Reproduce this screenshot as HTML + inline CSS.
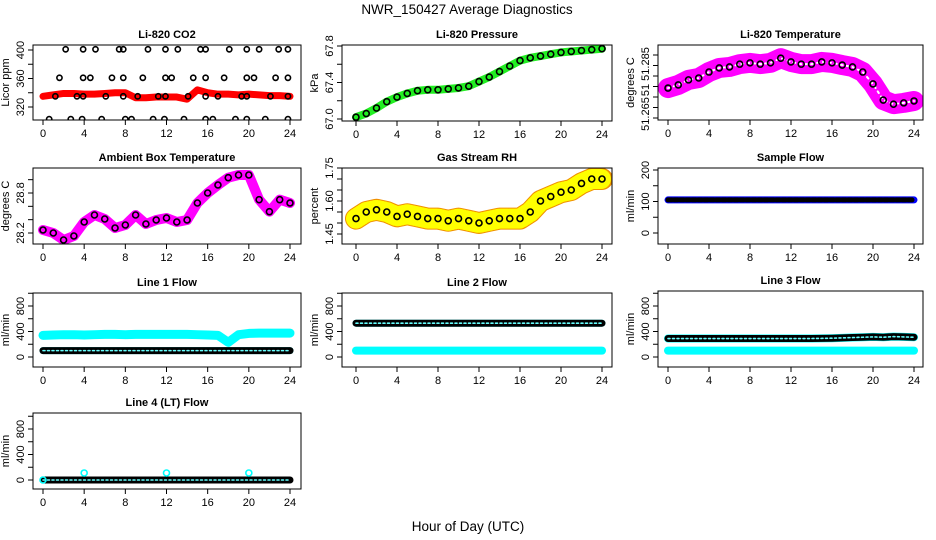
<!DOCTYPE html>
<html><head><meta charset="utf-8">
<style>
html,body{margin:0;padding:0;background:#fff;}
svg{display:block;font-family:"Liberation Sans",Arial,sans-serif;}
</style></head>
<body>
<svg id="chart" width="936" height="540" viewBox="0 0 936 540" xmlns="http://www.w3.org/2000/svg">
<text x="467" y="14" font-size="13.5" text-anchor="middle">NWR_150427  Average Diagnostics</text>
<text x="468" y="531" font-size="13.5" text-anchor="middle">Hour of Day (UTC)</text>
</svg>
<script>
// ---- data (hourly, 0..24) ----
const hours = [0,1,2,3,4,5,6,7,8,9,10,11,12,13,14,15,16,17,18,19,20,21,22,23,24];
const co2Band = [335,337,339,339,338,338,339,340,340,333,333,334,334,334,331,344,340,338,338,337,338,337,336,336,335];
const co2PtTimes = [2.2,3.9,5.1,7.4,7.8,10.2,11.9,13.1,15.3,15.8,18.1,19.8,21.0,22.9,23.8,
  1.6,3.9,4.6,6.7,7.8,9.7,11.9,12.5,14.6,15.8,17.6,19.8,20.5,22.6,23.8,
  1.2,3.3,3.9,6.1,7.8,9.2,11.2,11.9,14.1,15.8,17.0,19.3,19.8,22.1,23.8,
  0.6,2.7,3.8,5.7,8.0,8.6,10.7,11.8,13.7,15.8,16.5,18.7,19.8,21.6,23.8];
const co2PtValues = [401,401,401,401,401,401,401,401,401,401,401,401,401,401,401,
  361,361,361,361,361,361,361,361,361,361,361,361,361,361,361,
  335,335,335,335,335,335,335,335,335,335,335,335,335,335,335,
  303,303,303,303,303,303,303,303,303,303,303,303,303,303,303];
const pressure = [67.02,67.06,67.12,67.19,67.24,67.28,67.31,67.32,67.32,67.33,67.34,67.36,67.41,67.46,67.52,67.58,67.64,67.67,67.69,67.71,67.73,67.74,67.75,67.76,67.77];
const li820Temp = [51.2745,51.2755,51.2771,51.2777,51.2796,51.2809,51.2812,51.2821,51.2825,51.2821,51.2825,51.2840,51.2828,51.2821,51.2821,51.2828,51.2825,51.2818,51.2812,51.2796,51.2758,51.2707,51.2694,51.2698,51.2704];
const ambientTemp = [28.245,28.2,28.095,28.155,28.365,28.47,28.41,28.275,28.32,28.47,28.335,28.395,28.425,28.365,28.395,28.65,28.80,28.92,29.03,29.07,29.07,28.70,28.52,28.70,28.65];
const gasRH = [1.52,1.55,1.56,1.55,1.53,1.54,1.53,1.52,1.52,1.51,1.52,1.51,1.50,1.51,1.52,1.52,1.52,1.55,1.60,1.62,1.64,1.65,1.68,1.70,1.70];
const sampleFlow = [105,105,105,105,105,105,105,105,105,105,105,105,105,105,105,105,105,105,105,105,105,105,105,105,105];
const line1Upper = [340,345,350,350,345,350,355,355,350,355,355,355,355,355,355,350,345,340,230,350,370,375,375,375,375];
const line1Lower = [100,100,100,100,100,100,100,100,100,100,100,100,100,100,100,100,100,100,100,100,100,100,100,100,100];
const line2Upper = [530,530,530,530,530,530,530,530,530,530,530,530,530,530,530,530,530,530,530,530,530,530,530,530,530];
const line2Lower = [100,100,100,100,100,100,100,100,100,100,100,100,100,100,100,100,100,100,100,100,100,100,100,100,100];
const line3Upper = [290,290,290,290,290,290,290,290,290,290,290,290,290,290,290,292,295,300,305,310,315,310,320,315,310];
const line3Lower = [100,100,100,100,100,100,100,100,100,100,100,100,100,100,100,100,100,100,100,100,100,100,100,100,100];
const line4Flow = [0,0,0,0,0,0,0,0,0,0,0,0,0,0,0,0,0,0,0,0,0,0,0,0,0];
const line4SpikeTimes = [0,4,12,20];
const line4SpikeValues = [0,110,110,110];
const xTicks = [0,4,8,12,16,20,24];

const NS = "http://www.w3.org/2000/svg";
const svg = document.getElementById('chart');
function el(tag, attrs, parent){
  const e = document.createElementNS(NS, tag);
  for (const k in attrs) e.setAttribute(k, attrs[k]);
  (parent||svg).appendChild(e);
  return e;
}
function makePanel(cfg){
  const g = el('g', {});
  
  
  const xs = h => cfg.x0 + (cfg.x24 - cfg.x0) * h / 24;
  const ys = v => cfg.ya[1] + (v - cfg.ya[0]) * (cfg.yb[1] - cfg.ya[1]) / (cfg.yb[0] - cfg.ya[0]);
  const t = el('text', {x:(cfg.l+cfg.r)/2, y:cfg.t-7, 'font-size':11, 'font-weight':'bold', 'text-anchor':'middle'}, g);
  t.textContent = cfg.title;
  
  
  const xa = el('g', {}, g);
  
  
  el('line', {x1:xs(0), x2:xs(24), y1:cfg.b, y2:cfg.b, stroke:'#000'}, xa);
  xTicks.forEach(h => {
    el('line', {x1:xs(h), x2:xs(h), y1:cfg.b, y2:cfg.b+5, stroke:'#000'}, xa);
    const tl = el('text', {x:xs(h), y:cfg.b+17, 'font-size':11, 'text-anchor':'middle'}, xa);
    tl.textContent = h;
  });
  const ya = el('g', {}, g);
  
  
  el('line', {x1:cfg.l, x2:cfg.l, y1:ys(cfg.yticks[0]), y2:ys(cfg.yticks[cfg.yticks.length-1]), stroke:'#000'}, ya);
  cfg.yticks.forEach(v => el('line', {x1:cfg.l-5, x2:cfg.l, y1:ys(v), y2:ys(v), stroke:'#000'}, ya));
  cfg.ylabels.forEach((lab, i) => {
    const yy = cfg.ylabelPos ? cfg.ylabelPos[i] : ys(lab);
    const tl = el('text', {x:cfg.l-9, y:yy, 'font-size':11, 'text-anchor':'middle', transform:`rotate(-90 ${cfg.l-9} ${yy})`}, ya);
    tl.textContent = cfg.ylabelText ? cfg.ylabelText[i] : lab;
  });
  const yt = el('text', {x:cfg.l-24, y:(cfg.t+cfg.b)/2, 'font-size':11, 'text-anchor':'middle', transform:`rotate(-90 ${cfg.l-24} ${(cfg.t+cfg.b)/2})`}, g);
  yt.textContent = cfg.ytitle;
  
  
  const cid = 'clip-' + cfg.name;
  const cp = el('clipPath', {id:cid}, g);
  el('rect', {x:cfg.l, y:cfg.t, width:cfg.r-cfg.l, height:cfg.b-cfg.t}, cp);
  const dg = el('g', {'clip-path':`url(#${cid})`}, g);
  
  
  cfg.draw(dg, xs, ys);
  el('rect', {x:cfg.l, y:cfg.t, width:cfg.r-cfg.l, height:cfg.b-cfg.t, fill:'none', stroke:'#000'}, g);
}
function band(g, xs, ys, vals, color, w, name, dash){
  const p = el('polyline', {points: hours.map((h,i)=>xs(h)+','+ys(vals[i])).join(' '), fill:'none', stroke:color, 'stroke-width':w, 'stroke-linejoin':'round', 'stroke-linecap':'round'}, g);
  if (dash) p.setAttribute('stroke-dasharray', dash);
  
  
  return p;
}
function circles(g, xs, ys, times, vals, color, r, name){
  times.forEach((h,i) => {
    const c = el('circle', {cx:xs(h), cy:ys(vals[i]), r:r, fill:'none', stroke:color, 'stroke-width':1.6}, g);
    
    
  });
}
function chain(g, xs, ys, vals, name){
  band(g, xs, ys, vals, '#000', 7, name);
  band(g, xs, ys, vals, '#6ff', 1.6, name + '-inner', '2 2.5');
}
const flowTicks = [0,200,400,600,800,1000];
const C1 = {l:33, r:301, x0:43, x24:290};
const C2 = {l:342, r:612, x0:356, x24:602};
const C3 = {l:658, r:923, x0:668, x24:914};

makePanel(Object.assign({}, C1, {name:'co2', title:'Li-820 CO2', t:45, b:120, ya:[320,107], yb:[400,50],
  yticks:[320,340,360,380,400], ylabels:[320,360,400], ytitle:'Licor ppm',
  draw:(g,xs,ys)=>{ band(g,xs,ys,co2Band,'#f00',7,'co2-band'); circles(g,xs,ys,co2PtTimes,co2PtValues,'#000',2.6,'co2-point'); }}));
makePanel(Object.assign({}, C2, {name:'pressure', title:'Li-820 Pressure', t:45, b:121, ya:[67.0,119], yb:[67.8,46],
  yticks:[67.0,67.2,67.4,67.6,67.8], ylabels:[67.0,67.4,67.8], ylabelText:['67.0','67.4','67.8'], ytitle:'kPa',
  draw:(g,xs,ys)=>{ band(g,xs,ys,pressure,'#2e2',8,'pressure-band'); circles(g,xs,ys,hours,pressure,'#000',3,'pressure-point'); }}));
makePanel(Object.assign({}, C3, {name:'li820-temp', title:'Li-820 Temperature', t:45, b:120, ya:[51.265,118], yb:[51.285,55],
  yticks:[51.265,51.26833,51.27167,51.275,51.27833,51.28167,51.285], ylabels:[0,1,2], ylabelPos:[114,90,64], ylabelText:['51.265','51','51.285'], ytitle:'degrees C',
  draw:(g,xs,ys)=>{ band(g,xs,ys,li820Temp,'#f0f',20,'temp-band'); band(g,xs,ys,li820Temp,'#fff',2,'temp-band-texture','2 4'); circles(g,xs,ys,hours,li820Temp,'#000',3,'temp-point'); }}));
makePanel(Object.assign({}, C1, {name:'ambient-temp', title:'Ambient Box Temperature', t:168, b:244, ya:[28.2,233], yb:[28.8,193],
  yticks:[28.2,28.4,28.6,28.8,29.0], ylabels:[28.2,28.8], ylabelText:['28.2','28.8'], ytitle:'degrees C',
  draw:(g,xs,ys)=>{ band(g,xs,ys,ambientTemp,'#f0f',10,'ambient-band'); circles(g,xs,ys,hours,ambientTemp,'#000',3,'ambient-point'); }}));
makePanel(Object.assign({}, C2, {name:'gas-rh', title:'Gas Stream RH', t:168, b:244, ya:[1.45,234], yb:[1.75,168],
  yticks:[1.45,1.50,1.55,1.60,1.65,1.70,1.75], ylabels:[1.45,1.60,1.75], ylabelText:['1.45','1.60','1.75'], ytitle:'percent',
  draw:(g,xs,ys)=>{ band(g,xs,ys,gasRH,'#f09000',22,'rh-band'); band(g,xs,ys,gasRH,'#ff0',20,'rh-band-texture','1 2'); circles(g,xs,ys,hours,gasRH,'#000',3,'rh-point'); }}));
makePanel(Object.assign({}, C3, {name:'sample-flow', title:'Sample Flow', t:168, b:244, ya:[0,233], yb:[200,170],
  yticks:[0,50,100,150,200], ylabels:[0,100,200], ytitle:'ml/min',
  draw:(g,xs,ys)=>{ band(g,xs,ys,sampleFlow,'#00f',7,'sample-band'); band(g,xs,ys,sampleFlow,'#000',5,'sample-chain','4 2'); }}));
makePanel(Object.assign({}, C1, {name:'line1-flow', title:'Line 1 Flow', t:293, b:367, ya:[0,357], yb:[800,306],
  yticks:flowTicks, ylabels:[0,400,800], ytitle:'ml/min',
  draw:(g,xs,ys)=>{ band(g,xs,ys,line1Upper,'#0ff',9,'line1-upper'); band(g,xs,ys,line1Lower,'#0ff',7,'line1-lower'); chain(g,xs,ys,line1Lower,'line1-avg'); }}));
makePanel(Object.assign({}, C2, {name:'line2-flow', title:'Line 2 Flow', t:293, b:367, ya:[0,357], yb:[800,306],
  yticks:flowTicks, ylabels:[0,400,800], ytitle:'ml/min',
  draw:(g,xs,ys)=>{ band(g,xs,ys,line2Upper,'#0ff',7,'line2-upper'); band(g,xs,ys,line2Lower,'#0ff',8,'line2-lower'); chain(g,xs,ys,line2Upper,'line2-avg'); }}));
makePanel(Object.assign({}, C3, {name:'line3-flow', title:'Line 3 Flow', t:291, b:367, ya:[0,357], yb:[800,306],
  yticks:flowTicks, ylabels:[0,400,800], ytitle:'ml/min',
  draw:(g,xs,ys)=>{ band(g,xs,ys,line3Upper,'#0ff',8,'line3-upper'); band(g,xs,ys,line3Lower,'#0ff',8,'line3-lower'); chain(g,xs,ys,line3Upper,'line3-avg'); }}));
makePanel(Object.assign({}, C1, {name:'line4-flow', title:'Line 4 (LT) Flow', t:413, b:489, ya:[0,480], yb:[800,429],
  yticks:flowTicks, ylabels:[0,400,800], ytitle:'ml/min',
  draw:(g,xs,ys)=>{ band(g,xs,ys,line4Flow,'#0ff',6,'line4-band'); chain(g,xs,ys,line4Flow,'line4-avg'); circles(g,xs,ys,line4SpikeTimes,line4SpikeValues,'#0ff',3,'line4-spike'); }}));
</script>
</body></html>
